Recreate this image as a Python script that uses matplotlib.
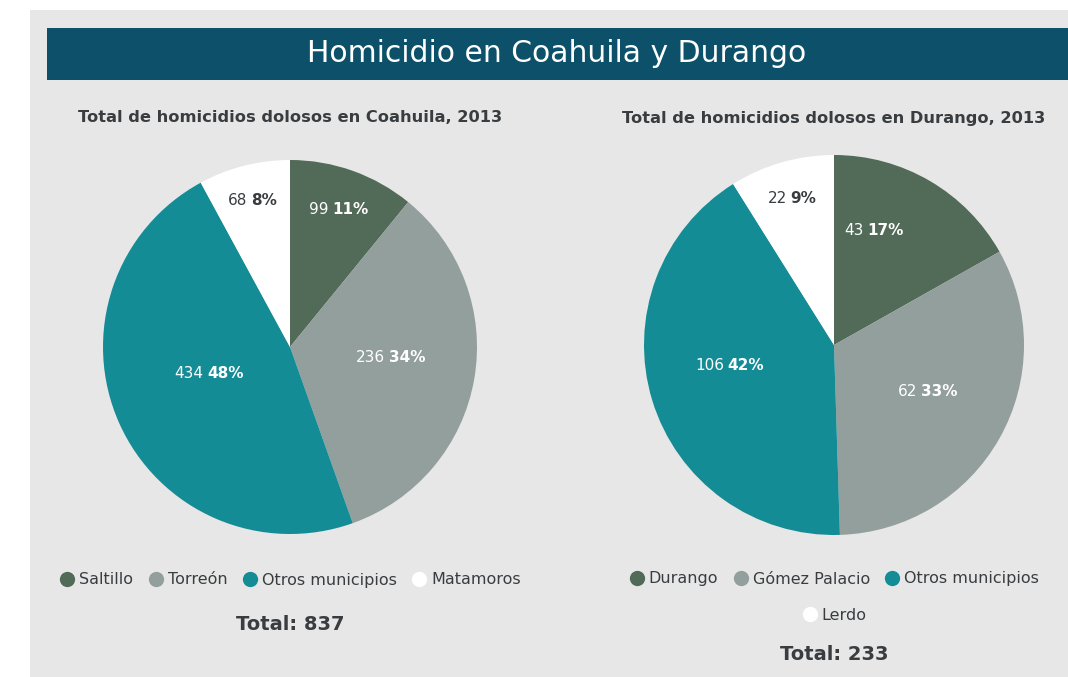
import matplotlib
matplotlib.use("Agg")
import matplotlib.pyplot as plt
from matplotlib.patches import Rectangle
from matplotlib.lines import Line2D
from matplotlib.offsetbox import TextArea, HPacker, AnnotationBbox
import numpy as np

# ---- data ----
title = "Homicidio en Coahuila y Durango"

coah_title = "Total de homicidios dolosos en Coahuila, 2013"
coah_names = ["Saltillo", "Torreón", "Otros municipios", "Matamoros"]
coah_counts = [99, 236, 434, 68]
coah_pcts = [11, 34, 48, 8]
coah_total = 837

dur_title = "Total de homicidios dolosos en Durango, 2013"
dur_names = ["Durango", "Gómez Palacio", "Otros municipios", "Lerdo"]
dur_counts = [43, 62, 106, 22]
dur_pcts = [17, 33, 42, 9]
dur_total = 233

# ---- style ----
colors = ["#526a58", "#939f9d", "#138c96", "#ffffff"]
label_colors = ["white", "white", "white", "#3a3d40"]
text_col = "#3a3d40"
bg_col = "#e7e7e7"
header_col = "#0c5069"
FONT = "DejaVu Sans"

W, H = 1068, 677
fig = plt.figure(figsize=(W / 100, H / 100), dpi=100, facecolor="white")

def fx(px):
    return px / W

def fy(py):
    return 1 - py / H

# background panels
fig.patches.append(Rectangle((fx(30), 0), 1 - fx(30), fy(10), transform=fig.transFigure,
                             facecolor=bg_col, edgecolor="none", zorder=-2))
fig.patches.append(Rectangle((fx(47), fy(80)), 1 - fx(47), fy(28) - fy(80), transform=fig.transFigure,
                             facecolor=header_col, edgecolor="none", zorder=-1))
fig.text(fx(557), fy(54), title, ha="center", va="center", color="white",
         fontsize=21.5, family=FONT)


def draw_pie(cx, cy, r, names, counts, pcts, total, sub, label_r, label_shift,
             legend_rows, legend_y, total_y):
    ax = fig.add_axes([fx(cx - r), fy(cy + r), (2 * r) / W, (2 * r) / H])
    ax.set_zorder(1)
    wedges, _ = ax.pie(pcts, colors=colors, startangle=90, counterclock=False,
                       radius=1, wedgeprops=dict(linewidth=0))
    ax.set_xlim(-1, 1)
    ax.set_ylim(-1, 1)
    ax.set_aspect("equal")
    ax.axis("off")
    for i, w in enumerate(wedges):
        ang = np.deg2rad((w.theta1 + w.theta2) / 2 + label_shift[i])
        x, y = label_r[i] * np.cos(ang), label_r[i] * np.sin(ang)
        t1 = TextArea(str(counts[i]), textprops=dict(color=label_colors[i], fontsize=11, family=FONT))
        t2 = TextArea(f"{pcts[i]}%", textprops=dict(color=label_colors[i], fontsize=11,
                                                     family=FONT, fontweight="bold"))
        box = HPacker(children=[t1, t2], sep=2.5, pad=0, align="baseline")
        ab = AnnotationBbox(box, (x, y), xycoords="data", frameon=False,
                            box_alignment=(0.5, 0.5), pad=0)
        ax.add_artist(ab)
    fig.text(fx(cx), fy(118), sub, ha="center", va="center", color=text_col,
             fontsize=11.7, fontweight="bold", family=FONT)
    idx = 0
    for row, ly in zip(legend_rows, legend_y):
        handles = [Line2D([], [], marker="o", linestyle="", markersize=11,
                          markerfacecolor=colors[j], markeredgewidth=0) for j in range(idx, idx + row)]
        labs = names[idx:idx + row]
        lg = fig.legend(handles, labs, loc="center", bbox_to_anchor=(fx(cx), fy(ly)),
                        ncol=row, frameon=False, handletextpad=0.25, columnspacing=0.9,
                        handlelength=1.0, borderpad=0, prop=dict(family=FONT, size=11.5))
        for t in lg.get_texts():
            t.set_color(text_col)
        idx += row
    fig.text(fx(cx), fy(total_y), f"Total: {total}", ha="center", va="center", color=text_col,
             fontsize=14, fontweight="bold", family=FONT)


draw_pie(290, 347, 187, coah_names, coah_counts, coah_pcts, coah_total, coah_title,
         label_r=[0.78, 0.54, 0.455, 0.81], label_shift=[0, 4, -6, 0],
         legend_rows=[4], legend_y=[580], total_y=625)
draw_pie(834, 345, 190, dur_names, dur_counts, dur_pcts, dur_total, dur_title,
         label_r=[0.636, 0.55, 0.56, 0.80], label_shift=[11, 3, -6, 0],
         legend_rows=[3, 1], legend_y=[579, 615], total_y=655)

fig.savefig("out.png", dpi=100, facecolor=fig.get_facecolor())
